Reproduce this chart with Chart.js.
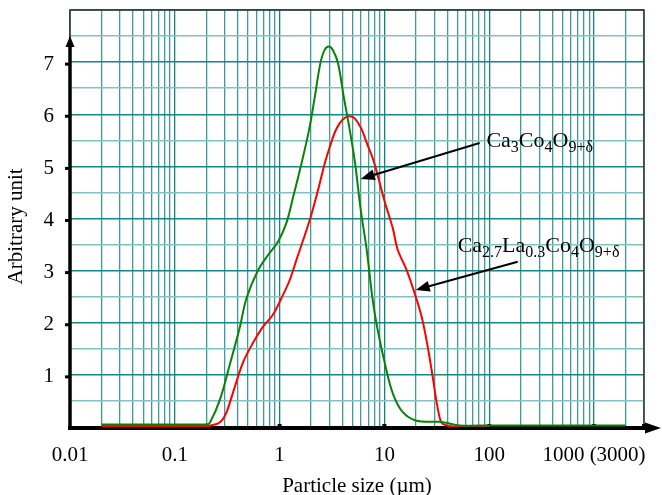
<!DOCTYPE html>
<html><head><meta charset="utf-8">
<script src="https://cdn.jsdelivr.net/npm/chart.js@4/dist/chart.umd.min.js"></script>
<style>html,body{margin:0;padding:0;background:#fff;}canvas{display:block;}</style>
</head><body>
<canvas id="c" width="662" height="495"></canvas>
<script>
// ---- data ----
const greenSize  = [0.02, 0.1, 0.2, 0.216, 0.269, 0.335, 0.418, 0.483, 0.624, 0.776, 0.968, 1.16, 1.35, 1.62, 1.91, 2.17, 2.45, 2.70, 2.97, 3.25, 3.61, 4.09, 4.67, 5.25, 5.94, 6.78, 7.73, 8.63, 10.07, 12.0, 14.9, 20.3, 33.6, 39, 52, 100, 2000];
const greenValue = [0.05, 0.05, 0.05, 0.08, 0.52, 1.2, 1.92, 2.47, 3.01, 3.30, 3.56, 3.91, 4.42, 5.06, 5.70, 6.34, 6.98, 7.24, 7.30, 7.22, 6.98, 6.34, 5.70, 5.06, 4.17, 3.40, 2.44, 1.86, 1.23, 0.65, 0.29, 0.12, 0.1, 0.08, 0.03, 0.03, 0.03];
const redSize  = [0.02, 0.2, 0.22, 0.26, 0.288, 0.314, 0.358, 0.446, 0.556, 0.692, 0.86, 1.04, 1.25, 1.45, 1.94, 2.33, 2.70, 3.01, 3.36, 3.75, 4.19, 4.67, 5.21, 6.04, 6.78, 7.9, 10.07, 12.0, 13.4, 16.3, 19.4, 22.7, 25.9, 28.9, 31.6, 34, 36, 45, 100];
const redValue = [0.02, 0.02, 0.03, 0.07, 0.15, 0.3, 0.65, 1.23, 1.61, 1.92, 2.15, 2.47, 2.82, 3.21, 3.97, 4.55, 5.06, 5.37, 5.65, 5.83, 5.93, 5.96, 5.92, 5.72, 5.45, 5.1, 4.32, 3.82, 3.40, 3.01, 2.57, 2.11, 1.54, 0.96, 0.46, 0.15, 0.06, 0.01, 0.0];
const xTickValues = [0.01, 0.1, 1, 10, 100, 1000];
const xTickLabels = ['0.01', '0.1', '1', '10', '100', '1000 (3000)'];
const yTickLabels = ['1', '2', '3', '4', '5', '6', '7'];
const xTitle = 'Particle size (\u00b5m)';
const yTitle = 'Arbitrary unit';
// annotation labels: [text, isSubscript]
const label1 = [['Ca', false], ['3', true], ['Co', false], ['4', true], ['O', false], ['9+\u03b4', true]];
const label2 = [['Ca', false], ['2.7', true], ['La', false], ['0.3', true], ['Co', false], ['4', true], ['O', false], ['9+\u03b4', true]];
// annotation anchors in data units: [textX, textY, arrowFromX, arrowFromY, arrowToX, arrowToY]
const anno1 = [94, 5.37, 81, 5.45, 5.94, 4.76];
const anno2 = [50, 3.36, 187, 3.17, 19.9, 2.63];

const FONT = "'Liberation Serif', 'Times New Roman', serif";

function toPts(xs, ys) { return xs.map((v, i) => ({x: v, y: ys[i]})); }

function arrowHead(ctx, fx, fy, tx, ty, len, half) {
  const ang = Math.atan2(ty - fy, tx - fx);
  ctx.beginPath();
  ctx.moveTo(tx, ty);
  ctx.lineTo(tx - len * Math.cos(ang) + half * Math.sin(ang), ty - len * Math.sin(ang) - half * Math.cos(ang));
  ctx.lineTo(tx - len * Math.cos(ang) - half * Math.sin(ang), ty - len * Math.sin(ang) + half * Math.cos(ang));
  ctx.closePath();
  ctx.fill();
}

const decor = {
  id: 'decor',
  beforeDatasetsDraw(chart) {
    const {ctx, chartArea: a, scales: {x, y}} = chart;
    ctx.save();
    ctx.strokeStyle = '#333';
    ctx.lineWidth = 1.5;
    ctx.beginPath();
    ctx.moveTo(a.left, a.bottom); ctx.lineTo(a.left, a.top); ctx.lineTo(a.right, a.top); ctx.lineTo(a.right, a.bottom);
    ctx.stroke();
    ctx.strokeStyle = '#000'; ctx.fillStyle = '#000';
    const x0 = a.left, y0 = y.getPixelForValue(0);
    const yTip = y.getPixelForValue(7.5);
    ctx.lineWidth = 3.5;
    ctx.beginPath(); ctx.moveTo(x0, y0 + 2); ctx.lineTo(x0, yTip + 8); ctx.stroke();
    arrowHead(ctx, x0, y0, x0, yTip, 11, 4.5);
    const xTip = chart.width - 1;
    ctx.lineWidth = 4;
    ctx.beginPath(); ctx.moveTo(x0 - 2, y0 + 1); ctx.lineTo(xTip - 12, y0 + 1); ctx.stroke();
    arrowHead(ctx, x0, y0 + 1, xTip, y0 + 1, 16, 5.5);
    for (let v = 1; v <= 7; v++) {
      const py = y.getPixelForValue(v) + 2;
      ctx.fillRect(x0 - 5, py - 1.5, 5, 3);
    }
    xTickValues.concat([3000]).forEach(v => {
      if (v === 0.01) return;
      const px = x.getPixelForValue(v);
      ctx.fillRect(px - 2, y0 - 3, 4, 3);
    });
    ctx.restore();
  },
  afterDraw(chart) {
    const {ctx, scales: {x, y}} = chart;
    ctx.save();
    ctx.fillStyle = '#000'; ctx.strokeStyle = '#000';
    ctx.textBaseline = 'alphabetic'; ctx.textAlign = 'left';
    const drawLabel = (parts, anno) => {
      let px = x.getPixelForValue(anno[0]);
      const py = y.getPixelForValue(anno[1]);
      parts.forEach(([t, sub]) => {
        ctx.font = (sub ? '16px ' : '22px ') + FONT;
        ctx.fillText(t, px, sub ? py + 5 : py);
        px += ctx.measureText(t).width;
      });
      const fx = x.getPixelForValue(anno[2]), fy = y.getPixelForValue(anno[3]);
      const tx = x.getPixelForValue(anno[4]), ty = y.getPixelForValue(anno[5]);
      const ang = Math.atan2(ty - fy, tx - fx);
      ctx.lineWidth = 2;
      ctx.beginPath(); ctx.moveTo(fx, fy); ctx.lineTo(tx - 10 * Math.cos(ang), ty - 10 * Math.sin(ang)); ctx.stroke();
      arrowHead(ctx, fx, fy, tx, ty, 14, 5.5);
    };
    drawLabel(label1, anno1);
    drawLabel(label2, anno2);
    ctx.restore();
  }
};

function isDecade(v) { const l = Math.log10(v); return Math.abs(l - Math.round(l)) < 1e-9; }

new Chart(document.getElementById('c'), {
  type: 'line',
  data: {
    datasets: [
      {label: 'Ca3Co4O9+δ', data: toPts(greenSize, greenValue), borderColor: '#0a820a', borderWidth: 2, pointRadius: 0, tension: 0.35, fill: false},
      {label: 'Ca2.7La0.3Co4O9+δ', data: toPts(redSize, redValue), borderColor: '#ff0000', borderWidth: 2, pointRadius: 0, tension: 0.35, fill: false}
    ]
  },
  options: {
    responsive: false,
    animation: false,
    devicePixelRatio: 1,
    layout: {padding: {top: 10, right: 18, left: 0, bottom: 0}},
    plugins: {legend: {display: false}, tooltip: {enabled: false}},
    scales: {
      x: {
        type: 'logarithmic',
        min: 0.01, max: 3000,
        afterBuildTicks(scale) {
          const t = [];
          for (let e = -2; e <= 3; e++) for (let m = 1; m <= 9; m++) {
            const v = +(m * Math.pow(10, e)).toPrecision(6);
            if (v <= 3000) t.push({value: v});
          }
          scale.ticks = t;
        },
        afterFit(scale) { scale.height = 68; scale.paddingLeft = 0; scale.paddingRight = 0; },
        border: {display: false},
        grid: {
          drawTicks: false,
          color: c => isDecade(c.tick.value) ? '#138282' : '#3c9c9c',
          lineWidth: 1.3
        },
        ticks: {
          autoSkip: false, maxRotation: 0, padding: 16, color: '#000',
          font: {family: FONT, size: 21},
          callback: (v) => { const i = xTickValues.findIndex(t => Math.abs(t - v) < 1e-9); return i >= 0 ? xTickLabels[i] : ''; }
        },
        title: {display: true, text: xTitle, color: '#000', font: {family: FONT, size: 21, lineHeight: 0.85}, padding: 0}
      },
      y: {
        type: 'linear',
        min: 0, max: 8,
        afterBuildTicks(scale) {
          const t = [];
          for (let i = 0; i <= 16; i++) t.push({value: i / 2});
          scale.ticks = t;
        },
        afterFit(scale) { scale.width = 70; scale.paddingTop = 0; scale.paddingBottom = 0; },
        border: {display: false},
        grid: {
          drawTicks: false,
          color: c => Number.isInteger(c.tick.value) ? '#178585' : '#82c2c2',
          lineWidth: 1.5
        },
        ticks: {
          autoSkip: false, padding: 16, color: '#000', labelOffset: 2,
          font: {family: FONT, size: 21},
          callback: (v) => { const s = String(v); return yTickLabels.includes(s) ? s : ''; }
        },
        title: {display: true, text: yTitle + '   ', color: '#000', font: {family: FONT, size: 21}, padding: {top: 4}}
      }
    }
  },
  plugins: [decor]
});
</script>
</body></html>
